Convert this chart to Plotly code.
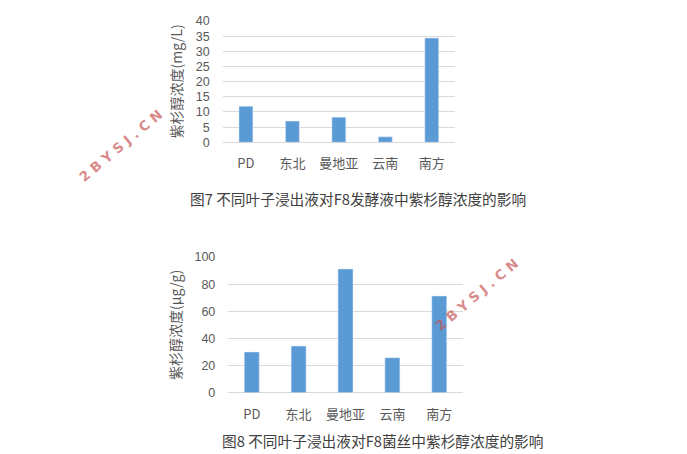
import plotly.graph_objects as go

W, H = 687, 454

categories = ["PD", "东北", "曼地亚", "云南", "南方"]
fig7_values = [11.9, 7.0, 8.3, 1.8, 34.4]      # mg/L
fig8_values = [30.0, 34.4, 91.2, 25.8, 71.3]   # μg/g
fig7_ticks = [0, 5, 10, 15, 20, 25, 30, 35, 40]
fig8_ticks = [0, 20, 40, 60, 80, 100]

BAR = "#5B9BD5"
GRID = "#D9D9D9"
TXT = "#595959"
FONT = "Noto Sans CJK SC"

def px(x):
    return x / W

def py(y):
    return 1 - y / H

fig = go.Figure()
fig.add_trace(go.Bar(x=categories, y=fig7_values, marker_color=BAR, width=0.3,
                     xaxis="x", yaxis="y", showlegend=False))
fig.add_trace(go.Bar(x=categories, y=fig8_values, marker_color=BAR, width=0.32,
                     xaxis="x2", yaxis="y2", showlegend=False))

common_x = dict(showgrid=False, showline=False, zeroline=False, ticks="", automargin=False,
                tickfont=dict(family=FONT, size=13, color=TXT), ticklabelstandoff=12)
common_y = dict(showgrid=True, gridcolor=GRID, gridwidth=1, zeroline=True, automargin=False,
                zerolinecolor=GRID, zerolinewidth=1, showline=False, ticks="",
                tickfont=dict(family="Liberation Sans", size=12.5, color=TXT),
                ticklabelstandoff=12)

fig.update_layout(
    width=W, height=H, autosize=False,
    margin=dict(l=0, r=0, t=0, b=0, pad=0, autoexpand=False),
    paper_bgcolor="white", plot_bgcolor="white",
    xaxis=dict(domain=[px(222.7), px(455)], anchor="y", **common_x),
    yaxis=dict(domain=[py(142.3), py(21)], range=[0, 40], tickvals=fig7_ticks,
               anchor="x", **common_y),
    xaxis2=dict(domain=[px(228.3), px(462.7)], anchor="y2", **common_x),
    yaxis2=dict(domain=[py(392.7), py(257)], range=[0, 100], tickvals=fig8_ticks,
                anchor="x2", **common_y),
    bargap=0.7,
    hovermode=False,
)

WM = dict(family="DejaVu Sans", size=13.5, color="rgba(200,85,85,0.7)", weight="bold")
annotations = [
    dict(text="紫杉醇浓度(mg/L)", x=px(175), y=py(81.5), textangle=-90,
         font=dict(family=FONT, size=14, color=TXT)),
    dict(text="紫杉醇浓度(μg/g)", x=px(175), y=py(325), textangle=-90,
         font=dict(family=FONT, size=14, color=TXT)),
    dict(text="图7 不同叶子浸出液对F8发酵液中紫杉醇浓度的影响", x=px(357.5), y=py(198),
         font=dict(family=FONT, size=14.7, color="#404040")),
    dict(text="图8 不同叶子浸出液对F8菌丝中紫杉醇浓度的影响", x=px(382), y=py(440),
         font=dict(family=FONT, size=14.7, color="#404040")),
    dict(text="2 B Y S J . C N", x=px(120), y=py(146), textangle=-40, font=WM),
    dict(text="2 B Y S J . C N", x=px(476), y=py(295), textangle=-40, font=WM),
]
for a in annotations:
    a.update(xref="paper", yref="paper", showarrow=False, xanchor="center", yanchor="middle")
fig.update_layout(annotations=annotations)

fig.write_html("out.html", config={"displayModeBar": False},
               post_script="document.body.style.margin='0';document.body.style.overflow='hidden';")
